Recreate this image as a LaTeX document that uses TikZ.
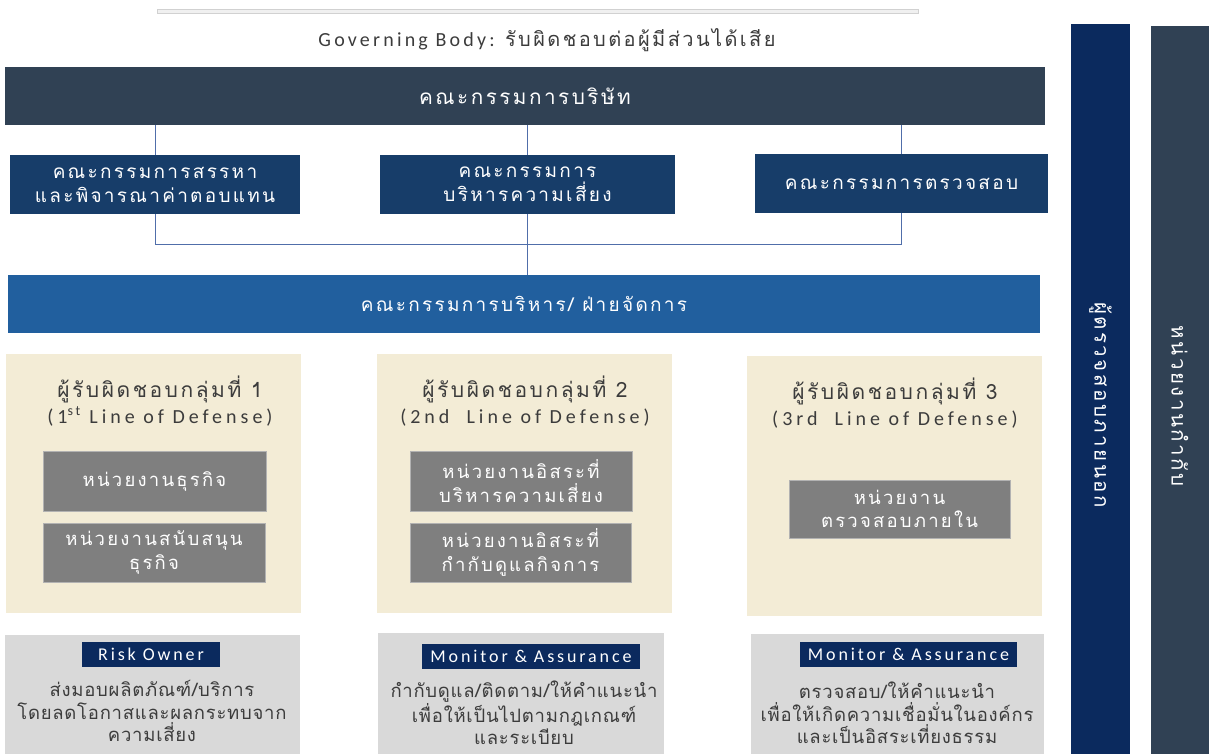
\documentclass[tikz,border=0pt]{standalone}
\usepackage{fontspec}
\setmainfont{Carlito}
\newfontfamily\thfont[Script=Thai,LetterSpace=12]{Loma}
\newfontfamily\thtight[Script=Thai,LetterSpace=4]{Loma}
\newfontfamily\latfont[LetterSpace=16]{Carlito}
\newfontfamily\latwide[LetterSpace=20]{Carlito}
\definecolor{boardc}{RGB}{48,65,84}
\definecolor{commc}{RGB}{23,61,105}
\definecolor{mgmtc}{RGB}{33,95,158}
\definecolor{creamc}{RGB}{243,236,214}
\definecolor{unitc}{RGB}{127,127,127}
\definecolor{botc}{RGB}{217,217,217}
\definecolor{navyc}{RGB}{11,42,94}
\definecolor{linec}{RGB}{80,110,170}
\definecolor{darktext}{RGB}{60,60,60}
\tikzset{
  box/.style={draw=none, inner sep=0pt, align=center},
  boardbox/.style={box, fill=boardc, text=white, font=\fontsize{20.7}{24}\selectfont\thfont},
  commbox/.style={box, fill=commc, text=white, font=\fontsize{19}{24}\selectfont\thfont},
  mgmtbox/.style={box, fill=mgmtc, text=white, font=\fontsize{19}{23}\selectfont\thfont},
  unitbox/.style={box, fill=unitc, draw=black!30, line width=0.6pt, text=white, font=\fontsize{18.5}{23.5}\selectfont\thfont},
  tagbox/.style={box, fill=navyc, text=white, font=\fontsize{18}{20}\selectfont\latfont},
  titletext/.style={align=center, text=darktext, inner sep=0pt, font=\fontsize{20}{26}\selectfont},
  bottext/.style={align=center, text=darktext, inner sep=0pt, font=\fontsize{18.5}{22.5}\selectfont\thtight},
  sidebar/.style={box, text=white, font=\fontsize{20.5}{24}\selectfont\thfont},
  conn/.style={draw=linec, line width=0.8pt},
}
\begin{document}
\begin{tikzpicture}[x=1pt,y=-1pt]
\useasboundingbox (0,0) rectangle (1209,754);
% top rule
\draw[fill=black!6, draw=black!18, line width=0.8pt] (157,9) rectangle (918,13);
\node[inner sep=0pt, text=darktext, font=\fontsize{20}{24}\selectfont] (gov) at (547,40) {{\latfont Governing Body: }{\thfont รับผิดชอบต่อผู้มีส่วนได้เสีย}};
% board
\node[boardbox, minimum width=1040pt, minimum height=58pt] (board) at (525,96) {คณะกรรมการบริษัท};
% committees
\node[commbox, minimum width=290pt, minimum height=59pt] (c1) at (155,184.5) {คณะกรรมการสรรหา\\และพิจารณาค่าตอบแทน};
\node[commbox, minimum width=295pt, minimum height=59pt] (c2) at (527.5,184.5) {คณะกรรมการ\\บริหารความเสี่ยง};
\node[commbox, minimum width=293pt, minimum height=59pt] (c3) at (901.5,183.5) {คณะกรรมการตรวจสอบ};
% management
\node[mgmtbox, minimum width=1032pt, minimum height=58pt] (mgmt) at (524,304) {คณะกรรมการบริหาร/ ฝ่ายจัดการ};
% connectors
\coordinate (j) at (527.5,244);
\draw[conn] (c1.north |- board.south) -- (c1.north);
\draw[conn] (c2.north |- board.south) -- (c2.north);
\draw[conn] (c3.north |- board.south) -- (c3.north);
\draw[conn] (c1.south) |- (j);
\draw[conn] (c3.south) |- (j);
\draw[conn] (c2.south) -- (c2.south |- mgmt.north);
% cream boxes
\fill[creamc] (6,354) rectangle (301,613);
\fill[creamc] (377,354) rectangle (672,613);
\fill[creamc] (747,356) rectangle (1042,616);
\node[titletext] (t1) at (160,401) {{\fontsize{21}{26}\selectfont\thfont ผู้รับผิดชอบกลุ่มที่ 1}\\{\latwide (1\textsuperscript{st} Line of Defense)}};
\node[titletext] (t2) at (525,401) {{\fontsize{21}{26}\selectfont\thfont ผู้รับผิดชอบกลุ่มที่ 2}\\{\latwide (2nd~~Line of Defense)}};
\node[titletext] (t3) at (895,403) {{\fontsize{21}{26}\selectfont\thfont ผู้รับผิดชอบกลุ่มที่ 3}\\{\latwide (3rd~~Line of Defense)}};
% units
\node[unitbox, minimum width=223pt, minimum height=60pt] (g1a) at (154.5,481) {หน่วยงานธุรกิจ};
\node[unitbox, minimum width=222pt, minimum height=59pt] (g1b) at (154,552.5) {หน่วยงานสนับสนุน\\ธุรกิจ};
\node[unitbox, minimum width=222pt, minimum height=60pt] (g2a) at (521,481) {หน่วยงานอิสระที่\\บริหารความเสี่ยง};
\node[unitbox, minimum width=221pt, minimum height=59pt] (g2b) at (520.5,552.5) {หน่วยงานอิสระที่\\กำกับดูแลกิจการ};
\node[unitbox, minimum width=221pt, minimum height=58pt] (g3) at (899.5,509) {หน่วยงาน\\ตรวจสอบภายใน};
% bottom boxes
\fill[botc] (5,635) rectangle (300,754);
\fill[botc] (378,633) rectangle (664,754);
\fill[botc] (751,634) rectangle (1044,754);
\node[tagbox, minimum width=138pt, minimum height=25pt] (l1) at (151,654.5) {Risk Owner};
\node[tagbox, minimum width=218pt, minimum height=25pt] (l2) at (531,656.5) {Monitor \& Assurance};
\node[tagbox, minimum width=217pt, minimum height=25pt] (l3) at (908.5,654.5) {Monitor \& Assurance};
\node[bottext] (d1) at (152,711) {ส่งมอบผลิตภัณฑ์/บริการ\\โดยลดโอกาสและผลกระทบจาก\\ความเสี่ยง};
\node[bottext] (d2) at (524,713) {กำกับดูแล/ติดตาม/ให้คำแนะนำ\\เพื่อให้เป็นไปตามกฎเกณฑ์\\และระเบียบ};
\node[bottext] (d3) at (897,713) {ตรวจสอบ/ให้คำแนะนำ\\เพื่อให้เกิดความเชื่อมั่นในองค์กร\\และเป็นอิสระเที่ยงธรรม};
% side bars
\fill[navyc] (1071,24) rectangle (1130,754);
\fill[boardc] (1151,26) rectangle (1209,754);
\node[sidebar, rotate=-90] (r1t) at (1100.5,405) {ผู้ตรวจสอบภายนอก};
\node[sidebar, rotate=-90] (r2t) at (1180,406) {หน่วยงานกำกับ};
\end{tikzpicture}
\end{document}
